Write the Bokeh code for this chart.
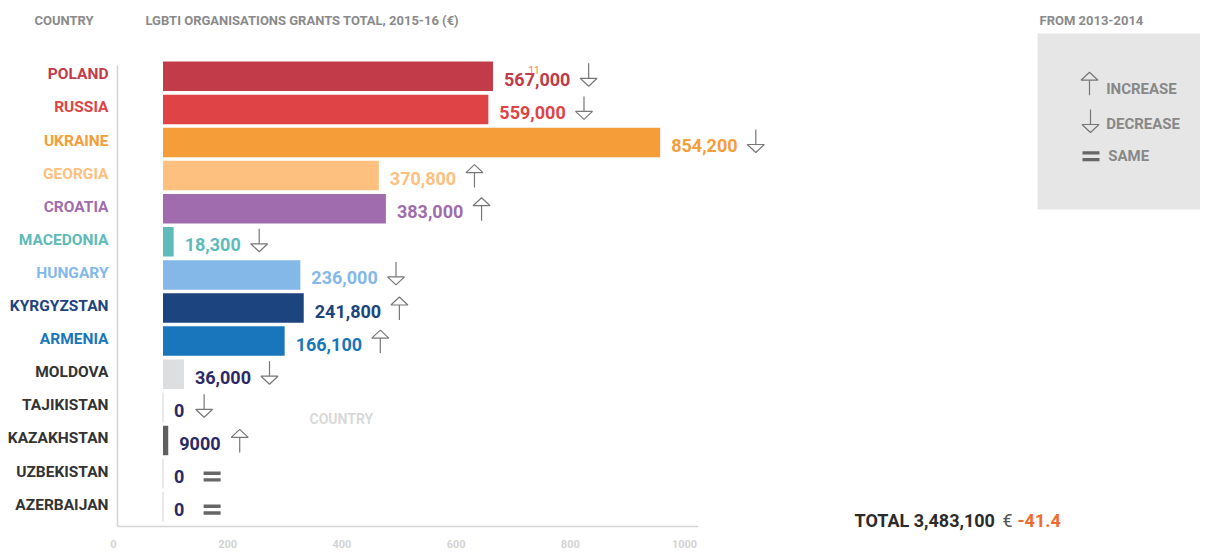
from bokeh.plotting import figure
from bokeh.models import Range1d, ColumnDataSource, BoxAnnotation
from bokeh.core.properties import value
from bokeh.embed import file_html
from bokeh.resources import INLINE

# ---------------- data ----------------
countries = ["POLAND", "RUSSIA", "UKRAINE", "GEORGIA", "CROATIA", "MACEDONIA", "HUNGARY",
             "KYRGYZSTAN", "ARMENIA", "MOLDOVA", "TAJIKISTAN", "KAZAKHSTAN", "UZBEKISTAN", "AZERBAIJAN"]
grants_eur = [567000, 559000, 854200, 370800, 383000, 18300, 236000,
              241800, 166100, 36000, 0, 9000, 0, 0]
# bar lengths (thousand EUR) as drawn in the original (Armenia's bar is drawn longer than its label)
bar_k = [567, 559, 854.2, 370.8, 383, 18.3, 236, 241.8, 209, 36, 0, 9, 0, 0]
value_labels = ["567,000", "559,000", "854,200", "370,800", "383,000", "18,300", "236,000",
                "241,800", "166,100", "36,000", "0", "9000", "0", "0"]
change = ["down", "down", "down", "up", "up", "down", "down", "up", "up", "down", "down", "up", "same", "same"]
axis_ticks = [0, 200, 400, 600, 800, 1000]
total_label = "TOTAL 3,483,100"
total_change = "-41.4"

bar_colors = ["#C13B48", "#E04345", "#F59D39", "#FEC07E", "#A06CAE", "#5DBBB9", "#83B8E9",
              "#1C447E", "#1A76BC", "#DDDEE0", "#E2E2E2", "#5F5F5F", "#E2E2E2", "#E2E2E2"]
name_colors = bar_colors[:9] + ["#333333"] * 5
value_colors = bar_colors[:9] + ["#2C2966"] * 5

FONT = value("Roboto")
W, H = 1200, 550
ROW0, ROWH = 75.8, 33.1          # canvas y of first row centre, row pitch
BAR0, PXK = 162.5, 0.582         # canvas x of bar origin, px per thousand EUR
AX0, AXK = 113.0, 0.571          # canvas x of axis 0, px per axis unit

p = figure(width=W, height=H, x_range=Range1d(0, W), y_range=Range1d(H, 0),
           output_backend="svg", toolbar_location=None, min_border=0,
           x_axis_location=None, y_axis_location=None, outline_line_color=None,
           background_fill_color="white", border_fill_color="white")
p.grid.visible = False
p.extra_y_ranges = {"row": Range1d(start=(H - ROW0) / ROWH, end=-ROW0 / ROWH)}
p.extra_x_ranges = {"val": Range1d(start=-BAR0 / PXK, end=(W - BAR0) / PXK),
                    "axis": Range1d(start=-AX0 / AXK, end=(W - AX0) / AXK)}

rows = list(range(len(countries)))
src = ColumnDataSource(dict(row=rows, country=countries, bar=bar_k, label=value_labels,
                            color=bar_colors, ncolor=name_colors, vcolor=value_colors,
                            edge_alpha=[1.0 if b == 0 else 0.0 for b in bar_k]))

# legend box
p.add_layout(BoxAnnotation(left=1037, right=W, top=33, bottom=209, fill_color="#E6E6E6",
                           fill_alpha=1, line_color=None, level="underlay"))

# axis frame lines (drawn in the axis scale)
p.segment(x0=[7, 7], y0=[65, 526], x1=[7, 1024], y1=[526, 526], x_range_name="axis",
          line_color="#D4D4D4", line_width=1.5)
p.text(x=axis_ticks, y=[543] * len(axis_ticks), text=[str(t) for t in axis_ticks],
       x_range_name="axis", text_align="center", text_baseline="middle",
       text_color="#D3D3D3", text_font=FONT, text_font_size="11px", text_font_style="bold")

# bars
p.hbar(y="row", left=0, right="bar", height=0.89, source=src, x_range_name="val", y_range_name="row",
       fill_color="color", line_color="#E2E2E2", line_alpha="edge_alpha", line_width=1)

# country names
p.text(x=108, y="row", text="country", source=src, y_range_name="row", y_offset=-2,
       text_align="right", text_baseline="middle", text_color="ncolor",
       text_font=FONT, text_font_style="bold", text_font_size="15.5px")

# value labels
p.text(x="bar", y="row", text="label", source=src, x_range_name="val", y_range_name="row",
       x_offset=11, y_offset=3, text_align="left", text_baseline="middle", text_color="vcolor",
       text_font=FONT, text_font_style="bold", text_font_size="18px")


def label_width(s, size=18):
    w = 0.0
    for ch in s:
        w += 0.22 if ch == "," else 0.562
    return w * size


arrow_segs = dict(x0=[], y0=[], x1=[], y1=[])
tri_xs, tri_ys = [], []
eq_l, eq_r, eq_t, eq_b = [], [], [], []


def add_arrow(kind, cx, cy):
    if kind == "down":
        arrow_segs["x0"].append(cx); arrow_segs["y0"].append(cy - 13)
        arrow_segs["x1"].append(cx); arrow_segs["y1"].append(cy + 2)
        tri_xs.append([cx - 8.5, cx + 8.5, cx]); tri_ys.append([cy + 2, cy + 2, cy + 10])
    elif kind == "up":
        arrow_segs["x0"].append(cx); arrow_segs["y0"].append(cy - 3)
        arrow_segs["x1"].append(cx); arrow_segs["y1"].append(cy + 12)
        tri_xs.append([cx - 8.5, cx + 8.5, cx]); tri_ys.append([cy - 3, cy - 3, cy - 11])
    else:
        for top in (cy - 5, cy + 1.7):
            eq_l.append(cx - 8.5); eq_r.append(cx + 8.5); eq_t.append(top); eq_b.append(top + 3.4)


for i, (b, lab, ch) in enumerate(zip(bar_k, value_labels, change)):
    start = BAR0 + b * PXK + 11
    gap = 28 if ch == "same" else 20
    cx = start + label_width(lab) + gap
    cy = ROW0 + ROWH * i
    add_arrow(ch, cx, cy + (3 if ch == "same" else 0))

# legend symbols
add_arrow("up", 1089, 82.7)
add_arrow("down", 1090, 122)
add_arrow("same", 1090.5, 155.7)

p.segment(source=ColumnDataSource(arrow_segs), x0="x0", y0="y0", x1="x1", y1="y1",
          line_color="#777777", line_width=1.2)
p.patches(xs=tri_xs, ys=tri_ys, fill_alpha=0, line_color="#777777", line_width=1.2)
p.quad(left=eq_l, right=eq_r, top=eq_t, bottom=eq_b, fill_color="#666666", line_color=None)

# headers
hdr = dict(text_font=FONT, text_font_style="bold", text_font_size="13px",
           text_color="#8A8A8A", text_baseline="middle", text_align="left")
p.text(x=[34, 145, 1039], y=[20, 20, 20],
       text=["COUNTRY", "LGBTI ORGANISATIONS GRANTS TOTAL, 2015-16 (€)", "FROM 2013-2014"], **hdr)

# legend texts
p.text(x=[1105.7, 1105.7, 1107.7], y=[88, 123, 155.7], text=["INCREASE", "DECREASE", "SAME"],
       text_font=FONT, text_font_style="bold", text_font_size="15px", text_color="#888888",
       text_baseline="middle", text_align="left")

# ghost label and stray mark from the original
p.text(x=[309], y=[418], text=["COUNTRY"], text_font=FONT, text_font_style="bold",
       text_font_size="14px", text_color="#D9D9D9", text_baseline="middle")
p.text(x=[528], y=[69], text=["11"], text_font=FONT, text_font_size="10px",
       text_color="#F58549", text_baseline="middle")

# total
p.text(x=[854], y=[520], text=[total_label], text_font=FONT, text_font_style="bold",
       text_font_size="18px", text_color="#2B2B2B", text_baseline="middle")
p.text(x=[1002], y=[520], text=["€"], text_font=FONT, text_font_size="18px",
       text_color="#555555", text_baseline="middle")
p.text(x=[1017], y=[520], text=[total_change], text_font=FONT, text_font_style="bold",
       text_font_size="18px", text_color="#F26A2E", text_baseline="middle")

open("out.html", "w").write(file_html(p, INLINE))
